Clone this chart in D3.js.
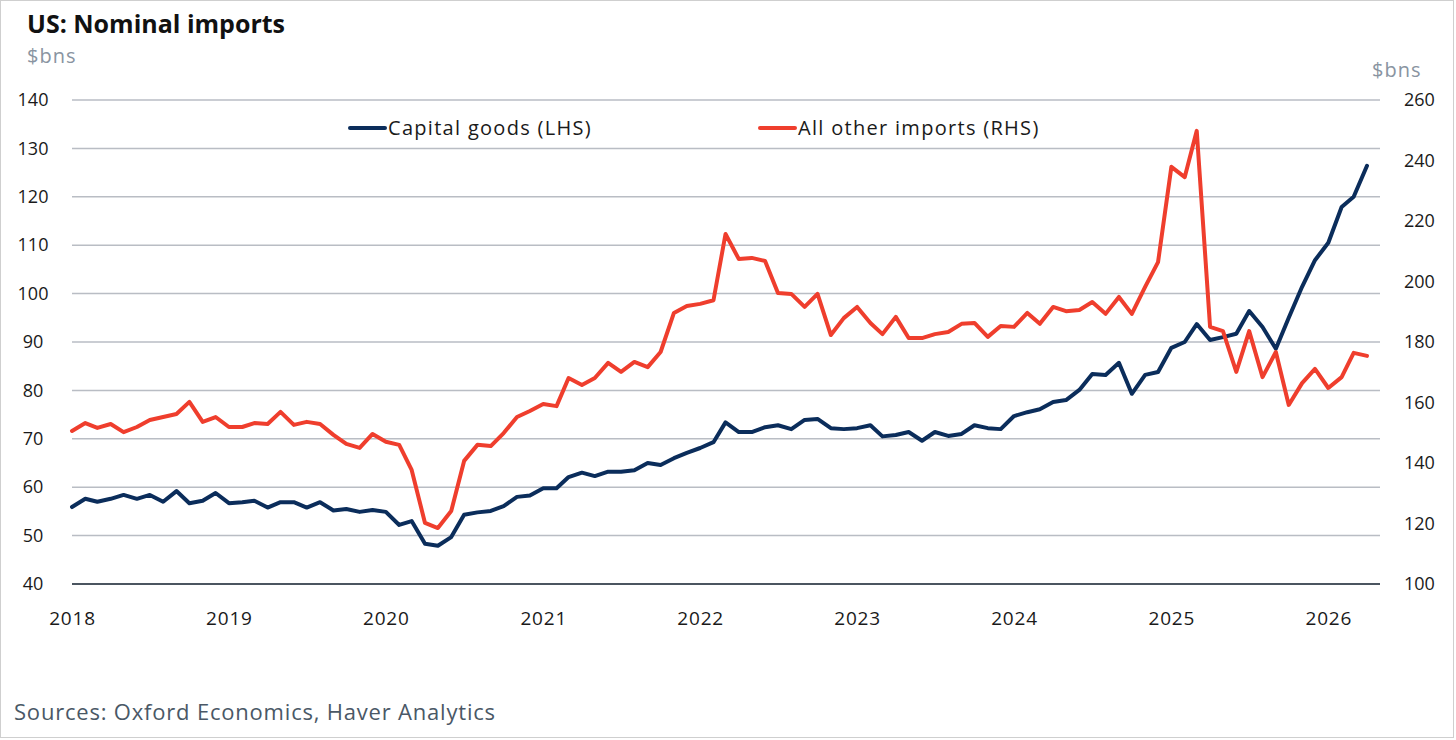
<!DOCTYPE html>
<html>
<head>
<meta charset="utf-8">
<script src="https://cdn.jsdelivr.net/npm/d3@7"></script>
<style>
    html, body { margin: 0; padding: 0; background: #fff; }
    svg { display: block; font-family: "Open Sans", sans-serif; }
    .grid line { stroke: #b9bdc4; stroke-width: 1.5; }
    .tick-label { font-size: 18px; fill: #1a1a1a; }
    .year-label { font-size: 19px; fill: #1a1a1a; letter-spacing: 0.8px; }
    .unit { font-size: 20px; fill: #8994a1; letter-spacing: 1px; }
</style>
</head>
<body>
<svg id="chart" width="1456" height="740"></svg>
<script>
// 数据：月度，2018年1月 - 2026年4月
const startMonth = new Date(2018, 0, 1);
const endMonth = new Date(2026, 3, 1);

// 资本品（左轴）
const capitalGoods = [
    55.9, 57.6, 57.0, 57.6, 58.4, 57.6, 58.4, 57.0, 59.2, 56.7, 57.2, 58.8,
    56.7, 56.9, 57.2, 55.8, 56.9, 56.9, 55.8, 56.9, 55.2, 55.5, 54.9, 55.3,
    54.9, 52.2, 53.0, 48.3, 47.9, 49.7, 54.3, 54.8, 55.1, 56.1, 58.0, 58.3,
    59.8, 59.8, 62.1, 63.0, 62.3, 63.2, 63.2, 63.5, 65.0, 64.6, 66.0, 67.1,
    68.1, 69.3, 73.4, 71.4, 71.4, 72.4, 72.8, 72.0, 73.9, 74.1, 72.2, 72.0,
    72.2, 72.8, 70.5, 70.8, 71.4, 69.6, 71.4, 70.6, 71.0, 72.8, 72.2, 72.0,
    74.7, 75.5, 76.1, 77.6, 78.0, 80.1, 83.4, 83.2, 85.7, 79.3, 83.2, 83.8,
    88.8, 90.0, 93.7, 90.4, 91.0, 91.7, 96.4, 93.1, 88.6, 95.0, 101.4, 106.9,
    110.5, 117.9, 120.0, 126.4
];

// 其他进口（右轴）
const otherImports = [
    150.6, 153.2, 151.6, 152.9, 150.2, 151.9, 154.2, 155.2, 156.2, 160.2, 153.6, 155.2,
    151.9, 151.9, 153.2, 152.9, 156.9, 152.6, 153.6, 152.9, 149.3, 146.3, 145.0, 149.6,
    147.0, 146.0, 137.7, 120.2, 118.5, 124.1, 140.7, 146.0, 145.6, 149.9, 155.2, 157.2,
    159.5, 158.8, 168.1, 165.8, 168.1, 173.1, 170.1, 173.4, 171.7, 176.7, 189.6, 191.9,
    192.6, 193.8, 215.7, 207.4, 207.8, 206.8, 196.2, 195.9, 191.6, 195.9, 182.3, 187.9,
    191.6, 186.3, 182.6, 188.3, 181.3, 181.3, 182.6, 183.3, 186.0, 186.3, 181.7, 185.3,
    185.0, 189.6, 186.0, 191.6, 190.2, 190.6, 193.2, 189.3, 194.9, 189.3, 198.2, 206.4,
    237.9, 234.5, 249.8, 185.0, 183.6, 170.1, 183.6, 168.4, 176.7, 159.2, 166.4, 171.1,
    164.8, 168.4, 176.4, 175.4
];

const leftTicks = [40, 50, 60, 70, 80, 90, 100, 110, 120, 130, 140];
const rightTicks = [100, 120, 140, 160, 180, 200, 220, 240, 260];
const yearLabels = ["2018", "2019", "2020", "2021", "2022", "2023", "2024", "2025", "2026"];

const seriesNames = ["Capital goods (LHS)", "All other imports (RHS)"];
const colors = ["#0b2d5b", "#ef3e2d"];

const months = d3.timeMonth.range(startMonth, d3.timeMonth.offset(endMonth, 1));

const svg = d3.select("#chart");

// 外框
svg.append("rect")
    .attr("x", 0.5).attr("y", 0.5)
    .attr("width", 1453).attr("height", 737)
    .attr("fill", "none")
    .attr("stroke", "#cfcfcf");

// 比例尺
const plotLeft = 72, plotRight = 1380;
const x = d3.scaleTime().domain([startMonth, endMonth]).range([72, 1367]);
const yL = d3.scaleLinear().domain([40, 140]).range([584, 100]);
const yR = d3.scaleLinear().domain([100, 260]).range([584, 100]);

// 网格线
svg.append("g")
    .attr("class", "grid")
    .selectAll("line")
    .data(leftTicks.slice(1))
    .enter()
    .append("line")
    .attr("x1", plotLeft).attr("x2", plotRight)
    .attr("y1", d => yL(d)).attr("y2", d => yL(d));

// 底部基线
svg.append("line")
    .attr("x1", plotLeft).attr("x2", plotRight)
    .attr("y1", yL(40)).attr("y2", yL(40))
    .attr("stroke", "#4b5560")
    .attr("stroke-width", 2);

// 清除 d3 轴默认字体
function cleanAxis(g, cls) {
    g.attr("font-family", null).attr("font-size", null);
    g.select(".domain").remove();
    g.selectAll("text").attr("class", cls);
}

// 左轴
const leftAxis = svg.append("g")
    .attr("transform", "translate(33,0)")
    .call(d3.axisLeft(yL).tickValues(leftTicks).tickSize(0).tickPadding(0));
cleanAxis(leftAxis, "tick-label");
leftAxis.selectAll("text").attr("text-anchor", "middle");

// 右轴
const rightAxis = svg.append("g")
    .attr("transform", "translate(1404,0)")
    .call(d3.axisRight(yR).tickValues(rightTicks).tickSize(0).tickPadding(0));
cleanAxis(rightAxis, "tick-label");
rightAxis.selectAll("text").attr("text-anchor", "start");

// X轴年份
const xAxis = svg.append("g")
    .attr("transform", "translate(0,618)")
    .call(d3.axisBottom(x)
        .tickValues(yearLabels.map(y => new Date(+y, 0, 1)))
        .tickFormat((d, i) => yearLabels[i])
        .tickSize(0).tickPadding(0));
cleanAxis(xAxis, "year-label");
xAxis.selectAll("text").attr("dy", "0.35em");

// 折线
const lineL = d3.line().x((d, i) => x(months[i])).y(d => yL(d));
const lineR = d3.line().x((d, i) => x(months[i])).y(d => yR(d));

svg.append("path")
    .datum(capitalGoods)
    .attr("fill", "none")
    .attr("stroke", colors[0])
    .attr("stroke-width", 4)
    .attr("stroke-linejoin", "round")
    .attr("stroke-linecap", "round")
    .attr("d", lineL);

svg.append("path")
    .datum(otherImports)
    .attr("fill", "none")
    .attr("stroke", colors[1])
    .attr("stroke-width", 4)
    .attr("stroke-linejoin", "round")
    .attr("stroke-linecap", "round")
    .attr("d", lineR);

// 图例
const legendX = [350, 760];
const legend = svg.append("g")
    .selectAll("g")
    .data(seriesNames)
    .enter()
    .append("g")
    .attr("transform", (d, i) => `translate(${legendX[i]},128)`);
legend.append("line")
    .attr("x1", 0).attr("x2", 35)
    .attr("stroke", (d, i) => colors[i])
    .attr("stroke-width", 4)
    .attr("stroke-linecap", "round");
legend.append("text")
    .attr("x", 38)
    .attr("dy", "0.35em")
    .attr("font-size", 20)
    .attr("letter-spacing", "1.3px")
    .attr("fill", "#1a1a1a")
    .text(d => d);

// 标题与单位
svg.append("text")
    .attr("x", 27).attr("y", 33)
    .attr("font-size", 25)
    .attr("font-weight", "bold")
    .attr("fill", "#111")
    .text("US: Nominal imports");

svg.append("text")
    .attr("class", "unit")
    .attr("x", 27).attr("y", 63)
    .text("$bns");

svg.append("text")
    .attr("class", "unit")
    .attr("x", 1372).attr("y", 77)
    .text("$bns");

// 数据来源
svg.append("text")
    .attr("x", 14).attr("y", 720)
    .attr("font-size", 22)
    .attr("letter-spacing", "0.8px")
    .attr("fill", "#4a5866")
    .text("Sources: Oxford Economics, Haver Analytics");
</script>
</body>
</html>
